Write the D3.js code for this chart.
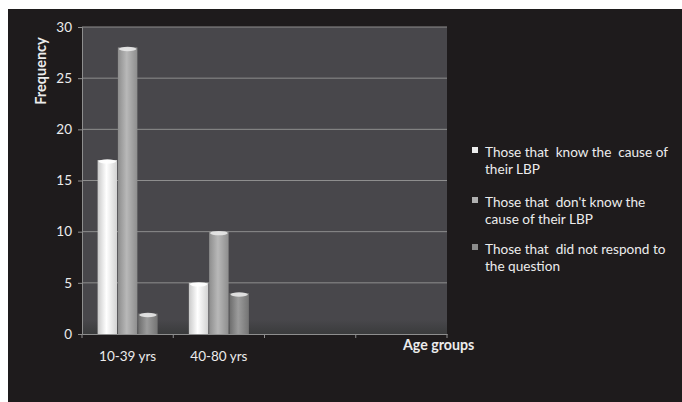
<!DOCTYPE html>
<html><head><meta charset="utf-8">
<script src="https://cdn.jsdelivr.net/npm/d3@7"></script>
<style>body{margin:0;background:#fff;}svg{display:block;}</style>
</head><body>
<svg id="c" width="682" height="402"></svg>
<script>
const categories = ["10-39 yrs", "40-80 yrs", "c3", "c4"];
const categoryLabels = ["10-39 yrs", "40-80 yrs", "", ""];
const seriesNames = [
  ["Those that  know the  cause of", "their LBP"],
  ["Those that  don't know the", "cause of their LBP"],
  ["Those that  did not respond to", "the question"]
];
const knowCause = [17, 5, null, null];
const dontKnowCause = [28, 10, null, null];
const noResponse = [2, 4, null, null];
const yTicks = [0, 5, 10, 15, 20, 25, 30];

const seriesValues = [knowCause, dontKnowCause, noResponse];
const svg = d3.select("#c");
const font = "Lato, 'Open Sans', sans-serif";
const textCol = "#ececec";

// outer dark panel
svg.append("rect").attr("x", 8).attr("y", 9).attr("width", 674).attr("height", 393).attr("fill", "#1e1b1c");

const L = 82, R = 447, T = 27, B = 334;
const x = d3.scaleBand().domain(categories).range([L, R]).padding(0);
const xs = d3.scaleBand().domain([0, 1, 2]).range([0, x.bandwidth()]).paddingInner(0.04).paddingOuter(0.77);
const y = d3.scaleLinear().domain([0, 30]).range([B, T]);

// defs gradients
const defs = svg.append("defs");
const grads = [
  ["#c9c9c9", "#ffffff", "#d2d2d2"],
  ["#8d8d8d", "#b8b8b8", "#8e8e8e"],
  ["#6c6c6c", "#9c9c9c", "#747474"]
];
grads.forEach((g, i) => {
  const lg = defs.append("linearGradient").attr("id", "g" + i).attr("x1", 0).attr("x2", 1).attr("y1", 0).attr("y2", 0);
  lg.append("stop").attr("offset", "0%").attr("stop-color", g[0]);
  lg.append("stop").attr("offset", "45%").attr("stop-color", g[1]);
  lg.append("stop").attr("offset", "100%").attr("stop-color", g[2]);
});
const fl = defs.append("linearGradient").attr("id", "floor").attr("x1", 0).attr("x2", 0).attr("y1", 0).attr("y2", 1);
fl.append("stop").attr("offset", "0%").attr("stop-color", "#48474b");
fl.append("stop").attr("offset", "100%").attr("stop-color", "#3a3b3c");

// plot background
svg.append("rect").attr("x", L).attr("y", T).attr("width", R - L).attr("height", B - T).attr("fill", "#48474b");
svg.append("rect").attr("x", L).attr("y", B - 14).attr("width", R - L).attr("height", 14).attr("fill", "url(#floor)");

// gridlines
svg.append("g").selectAll("line").data(yTicks.filter(d => d > 0)).join("line")
  .attr("x1", L).attr("x2", R).attr("y1", d => y(d)).attr("y2", d => y(d))
  .attr("stroke", "#8e8e8e").attr("stroke-width", 1);

// y axis
const yAxis = svg.append("g").attr("transform", `translate(${L},0)`)
  .call(d3.axisLeft(y).tickValues(yTicks).tickSize(4).tickPadding(6));
yAxis.select(".domain").attr("stroke", "#8e8e8e");
yAxis.selectAll(".tick line").attr("stroke", "#8e8e8e");
yAxis.selectAll("text").attr("fill", textCol).attr("font-size", 13.5).attr("font-family", font);

// x axis
const xAxis = svg.append("g").attr("transform", `translate(0,${B})`)
  .call(d3.axisBottom(x).tickSize(0).tickPadding(17).tickFormat((d, i) => categoryLabels[i]));
xAxis.select(".domain").attr("stroke", "#8e8e8e");
xAxis.selectAll("text").attr("fill", textCol).attr("font-size", 13.5).attr("font-family", font);
// boundary ticks
const bounds = categories.map(c => x(c)).concat([R]);
svg.append("g").selectAll("line").data(bounds).join("line")
  .attr("x1", d => d).attr("x2", d => d).attr("y1", B).attr("y2", B + 4).attr("stroke", "#8e8e8e");

// bars
const bars = [];
categories.forEach((c, ci) => {
  seriesValues.forEach((s, si) => {
    if (s[ci] != null) bars.push({ c, si, v: s[ci] });
  });
});
const bg = svg.append("g");
bg.selectAll("rect").data(bars).join("rect")
  .attr("x", d => x(d.c) + xs(d.si)).attr("width", xs.bandwidth())
  .attr("y", d => y(d.v)).attr("height", d => B - y(d.v))
  .attr("fill", d => `url(#g${d.si})`);
bg.selectAll("ellipse").data(bars).join("ellipse")
  .attr("cx", d => x(d.c) + xs(d.si) + xs.bandwidth() / 2)
  .attr("cy", d => y(d.v) + 1.5)
  .attr("rx", xs.bandwidth() / 2 - 1).attr("ry", 2.2)
  .attr("fill", d => d.si === 0 ? "#ffffff" : "#e8e8e8").attr("opacity", 0.9);

// axis titles
svg.append("text").attr("transform", "translate(46,71) rotate(-90)")
  .attr("text-anchor", "middle").attr("fill", textCol).attr("font-weight", "bold")
  .attr("font-size", 14.5).attr("font-family", font).text("Frequency");
svg.append("text").attr("x", 403).attr("y", 350)
  .attr("fill", textCol).attr("font-weight", "bold")
  .attr("font-size", 14.2).attr("font-family", font).text("Age groups");

// legend
const lg = svg.append("g");
const legY = [147, 197, 244];
const legFill = ["#ececec", "#b0b0b0", "#8c8c8c"];
seriesNames.forEach((lines, i) => {
  lg.append("rect").attr("x", 472).attr("y", legY[i]).attr("width", 6).attr("height", 6).attr("fill", legFill[i]);
  lines.forEach((t, j) => {
    lg.append("text").attr("x", 485).attr("y", legY[i] + 10 + j * 17)
      .attr("fill", textCol).attr("font-size", 13.6).attr("font-family", font)
      .attr("xml:space", "preserve").style("white-space", "pre").text(t);
  });
});
</script>
</body></html>
